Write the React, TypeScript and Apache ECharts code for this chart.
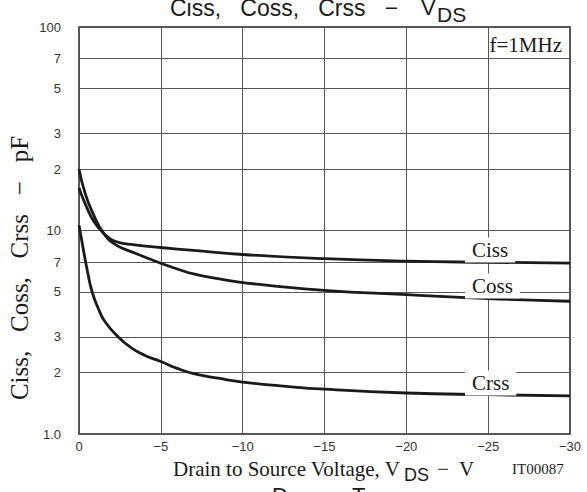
import React, { useEffect, useRef } from "react";
import * as echarts from "echarts";

// Capacitance vs drain-source voltage (f = 1 MHz)
const vCiss = [0, -0.4, -0.9, -1.5, -2.2, -3.4, -5, -7, -10, -15, -20, -25, -30];
const ciss = [16.2, 13.4, 11.1, 9.7, 8.86, 8.5, 8.25, 7.98, 7.62, 7.27, 7.07, 6.98, 6.92];
const vCoss = [0, -0.4, -0.9, -1.5, -2.2, -3.4, -5, -6, -7, -8.5, -10, -15, -20, -25, -30];
const coss = [20, 15, 11.9, 9.7, 8.55, 7.75, 6.9, 6.47, 6.12, 5.8, 5.55, 5.08, 4.84, 4.63, 4.49];
const vCrss = [0, -0.25, -0.5, -0.8, -1.2, -1.6, -2.4, -3.2, -4, -5, -6, -7, -8.5, -10, -12.5, -15, -20, -25, -30];
const crss = [10.6, 8.2, 6.4, 5.0, 4.1, 3.55, 3.0, 2.65, 2.44, 2.27, 2.1, 1.98, 1.88, 1.8, 1.72, 1.66, 1.59, 1.56, 1.54];

const yTicks = [1, 2, 3, 5, 7, 10, 20, 30, 50, 70, 100];
const seriesNames = ["Ciss", "Coss", "Crss"];

const pair = (xs: number[], ys: number[]) => xs.map((x, i) => [x, ys[i]]);

const SERIF = "'Liberation Serif', 'Times New Roman', serif";
const SANS = "'Liberation Sans', Arial, sans-serif";

export default function App() {
  const ref = useRef<HTMLDivElement>(null);
  useEffect(() => {
    const chart = echarts.init(ref.current!, undefined, { renderer: "svg" });
    const lineStyle = { color: "#1a1a1a", width: 2.8 };
    const mk = (name: string, data: number[][]) => ({
      name,
      type: "line",
      data,
      smooth: 0.5,
      showSymbol: false,
      lineStyle,
      z: 3,
    });
    const txt = (text: string, x: number, y: number, font: string, extra: any = {}) => ({
      type: "text",
      x,
      y,
      z: 20,
      style: { text, font, fill: "#1a1a1a", verticalAlign: "middle", ...extra },
    });
    const labelBox = (text: string, x: number, y: number) =>
      txt(text, x, y, `21px ${SERIF}`, { backgroundColor: "#fff", padding: [2, 7, 2, 7] });
    chart.setOption({
      animation: false,
      backgroundColor: "#fff",
      grid: {
        left: 79,
        right: 17,
        top: 27,
        bottom: 58,
        show: true,
        borderColor: "#222",
        borderWidth: 1.5,
        backgroundColor: "transparent",
        outerBoundsMode: "none",
      },
      xAxis: {
        type: "value",
        inverse: true,
        min: -30,
        max: 0,
        interval: 5,
        axisLine: { show: false },
        axisTick: { show: false },
        axisLabel: {
          margin: 6,
          fontFamily: SANS,
          fontSize: 13,
          color: "#333",
          formatter: (v: number) => (v === 0 ? "0" : "\u2212" + Math.abs(v)),
        },
        splitLine: { show: true, lineStyle: { color: "#555", width: 1 } },
      },
      yAxis: {
        type: "log",
        logBase: 10,
        min: 1,
        max: 100,
        axisLine: { show: false },
        axisTick: { show: false, customValues: yTicks },
        axisLabel: {
          customValues: yTicks,
          margin: 18,
          fontFamily: SANS,
          fontSize: 13,
          color: "#333",
          formatter: (v: number) =>
            v === 1 ? "1.0" : v === 10 || v === 100 ? String(v) : String(v >= 10 ? v / 10 : v),
        },
        splitLine: { show: true, lineStyle: { color: "#555", width: 1 } },
      },
      series: [
        mk(seriesNames[0], pair(vCiss, ciss)),
        mk(seriesNames[1], pair(vCoss, coss)),
        mk(seriesNames[2], pair(vCrss, crss)),
      ],
      graphic: [
        txt("Ciss,   Coss,   Crss   \u2212", 170, 8, `23px ${SANS}`),
        txt("V", 421, 7, `22px ${SANS}`),
        txt("DS", 437, 14, `21px ${SANS}`),
        txt("f=1MHz", 562, 45, `21px ${SERIF}`, { align: "right" }),
        labelBox(seriesNames[0], 465, 250),
        labelBox(seriesNames[1], 465, 286),
        labelBox(seriesNames[2], 465, 383),
        {
          type: "text",
          x: 19,
          y: 268,
          rotation: Math.PI / 2,
          style: {
            text: "Ciss,   Coss,   Crss   \u2212   pF",
            font: `25px ${SERIF}`,
            fill: "#1a1a1a",
            align: "center",
            verticalAlign: "middle",
          },
        },
        txt("Drain to Source Voltage, V", 173, 469, `21px ${SERIF}`),
        txt("DS", 404, 475, `18px ${SANS}`),
        txt("\u2212  V", 437, 469, `21px ${SERIF}`),
        txt("IT00087", 512, 469, `15px ${SERIF}`),
        txt("D", 272, 495, `22px ${SANS}`),
        txt("T", 352, 495, `22px ${SANS}`),
      ],
    });
    return () => chart.dispose();
  }, []);
  return (
    <div
      ref={ref}
      style={{ position: "fixed", left: 0, top: 0, width: 587, height: 492, background: "#fff" }}
    />
  );
}
